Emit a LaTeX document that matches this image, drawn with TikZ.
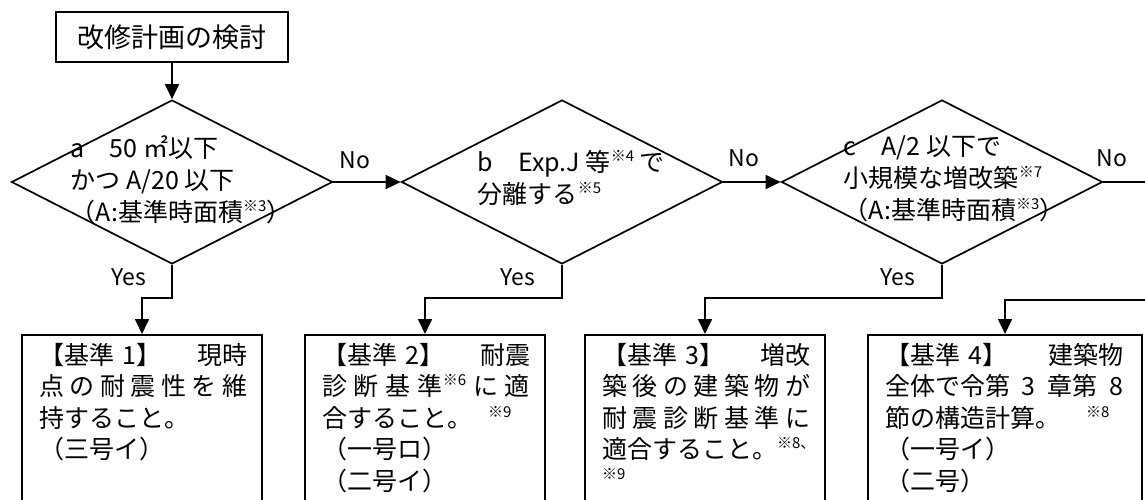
\documentclass[tikz,border=0pt]{standalone}
\usepackage{fontspec}
\setmainfont{Noto Sans CJK JP}
\usetikzlibrary{shapes.geometric, arrows.meta, positioning}

\newcommand{\kome}[1]{\raisebox{.4em}{\fontsize{15pt}{15pt}\selectfont ※#1}}

\begin{document}
\begin{tikzpicture}[x=1pt, y=-1pt, line width=1.7pt,
  arr/.style={-{Triangle[length=15pt,width=14pt]}},
  cond/.style={diamond, draw, minimum width=321pt, minimum height=164pt, inner sep=0pt},
  condtext/.style={anchor=west, align=left, inner sep=0pt, font=\fontsize{25pt}{32pt}\selectfont},
  kijun/.style={rectangle, draw, anchor=north, minimum width=240pt, minimum height=200pt},
  kijuntext/.style={align=left, inner sep=0pt, text width=208pt, font=\fontsize{25pt}{31.5pt}\selectfont},
  lbl/.style={inner sep=0pt, font=\fontsize{23pt}{23pt}\selectfont}]
  \useasboundingbox (0,0) rectangle (1145,500);
  \clip (0,0) rectangle (1145,500);

  % Inicio
  \node[draw, minimum width=232pt, minimum height=50pt, font=\fontsize{27pt}{27pt}\selectfont] (start) at (172,37) {改修計画の検討};

  % Condiciones a, b, c
  \node[cond] (a) at (172,182) {};
  \node[cond] (b) at (562,182) {};
  \node[cond] (c) at (942,182) {};
  \node[condtext] (atext) at (70,180) {a　50 ㎡以下\\かつ A/20 以下\\（A:基準時面積\kome{3}）};
  \node[condtext] (btext) at (477,177.5) {b　Exp.J 等\kome{4} で\\分離する\kome{5}};
  \node[condtext] (ctext) at (843,178.5) {c　A/2 以下で\\小規模な増改築\kome{7}\\（A:基準時面積\kome{3}）};

  % Criterios 1 a 4
  \node[kijun] (k1) at (142,334) {};
  \node[kijun] (k2) at (425,334) {};
  \node[kijun] (k3) at (705,334) {};
  \node[kijun, minimum width=274pt] (k4) at (1005,334) {};
  \node[kijuntext, below right=8pt and 17pt of k1.north west] (k1text) {【基準 1】\hfill 現時\\点\hfill の\hfill 耐\hfill 震\hfill 性\hfill を\hfill 維\\持すること。\\（三号イ）};
  \node[kijuntext, below right=8pt and 17pt of k2.north west] (k2text) {【基準 2】\hfill 耐震\\診\hfill 断\hfill 基\hfill 準\kome{6}\hfill に\hfill 適\\合すること。\hspace{16pt}\kome{9}\\（一号ロ）\\（二号イ）};
  \node[kijuntext, below right=8pt and 17pt of k3.north west] (k3text) {【基準 3】\hfill 増改\\築\hfill 後\hfill の\hfill 建\hfill 築\hfill 物\hfill が\\耐\hfill 震\hfill 診\hfill 断\hfill 基\hfill 準\hfill に\\適合すること。\kome{8、}\\[-11pt]{\fontsize{15pt}{15pt}\selectfont ※9}};
  \node[kijuntext, text width=238pt, below right=8pt and 17pt of k4.north west] (k4text) {【基準 4】\hfill 建築物\\全体で令第\hfill 3\hfill 章第\hfill 8\\節の構造計算。\hspace{26pt}\kome{8}\\（一号イ）\\（二号）};

  % Etiquetas
  \node[lbl] (no1) at (355,160) {No};
  \node[lbl] (no2) at (744,158) {No};
  \node[lbl] (no3) at (1112,158) {No};
  \node[lbl] (yes1) at (129,277) {Yes};
  \node[lbl] (yes2) at (518,277) {Yes};
  \node[lbl] (yes3) at (898,277) {Yes};

  % Extremos libres en el borde derecho
  \coordinate (edgec) at (1145,182);
  \coordinate (edge4) at (1145,300);

  % Conexiones
  \draw[arr] (start.south) -- (a.north);
  \draw[arr] (a.east) -- (b.west);
  \draw[arr] (b.east) -- (c.west);
  \draw (c.east) -- (edgec);
  \draw[arr] (a.south) -- ++(0,33) -| (k1.north);
  \draw[arr] (b.south) -- ++(0,33) -| (k2.north);
  \draw[arr] (c.south) -- ++(0,33) -| (k3.north);
  \draw[arr] (edge4) -| (k4.north);
\end{tikzpicture}
\end{document}
